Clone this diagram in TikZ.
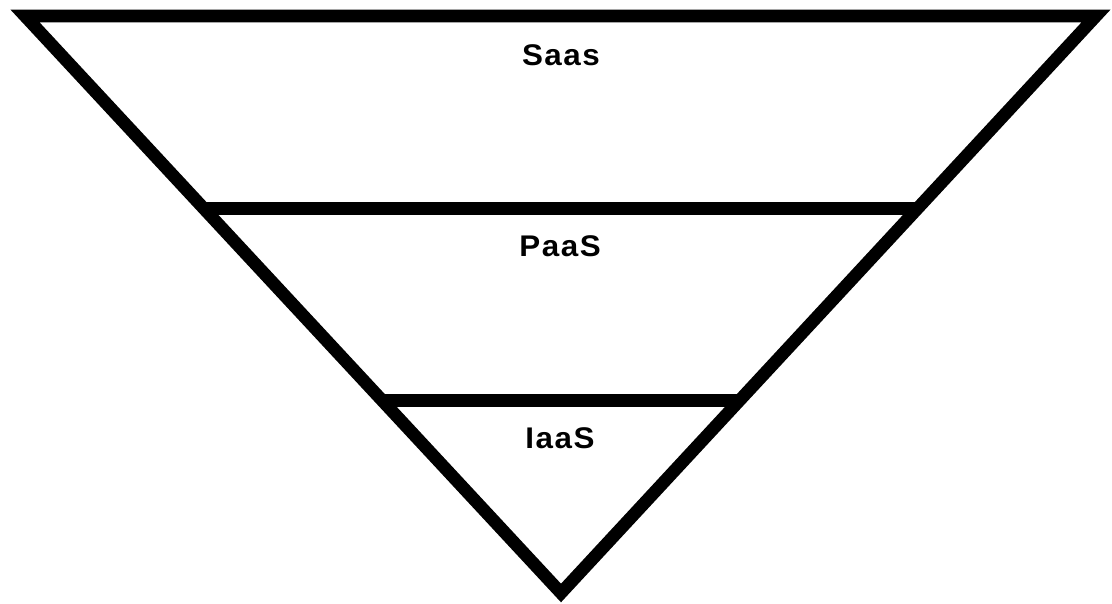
\documentclass[tikz,border=0pt]{standalone}
\usepackage{fontspec}
\setmainfont{Liberation Sans}
\usepackage{tikz}
\usetikzlibrary{calc}
\tikzset{
  edge/.style={line width=7.2pt, line join=miter},
  layer/.style={font=\fontsize{17}{19}\selectfont\bfseries\addfontfeature{LetterSpace=5}, inner sep=0pt, xscale=1.05}
}

\begin{document}
\begin{tikzpicture}[x=0.02cm, y=-0.02cm]
  \useasboundingbox (0,0) rectangle (1112,604);
  % Outline
  \coordinate (tl) at (25,16);
  \coordinate (tr) at (1096,16);
  \coordinate (tip) at (561,593);
  \draw[edge] (tl) -- (tr) -- (tip) -- cycle;
  % Dividers
  \coordinate (l1) at ($(tl)!1/3!(tip)$);
  \coordinate (r1) at ($(tr)!1/3!(tip)$);
  \coordinate (l2) at ($(tl)!2/3!(tip)$);
  \coordinate (r2) at ($(tr)!2/3!(tip)$);
  \draw[edge] (l1) -- (r1);
  \draw[edge] (l2) -- (r2);
  % Labels
  \node[layer] (saas) at (561,55) {Saas};
  \node[layer] (paas) at (560,246) {PaaS};
  \node[layer] (iaas) at (560,438) {IaaS};
\end{tikzpicture}
\end{document}
